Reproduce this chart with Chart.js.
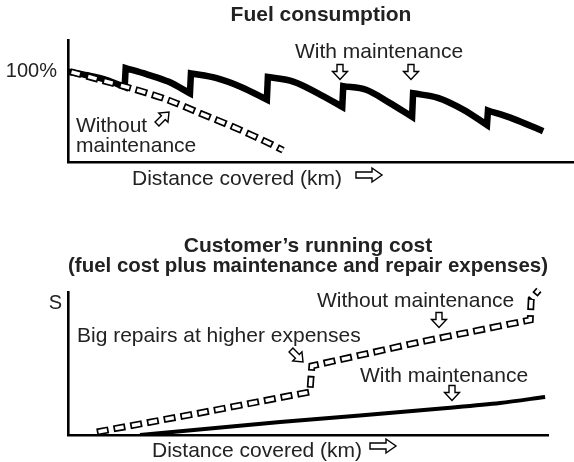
<!DOCTYPE html>
<html>
<head>
<meta charset="utf-8">
<script src="https://cdn.jsdelivr.net/npm/chart.js@4"></script>
<style>
  body { margin: 0; background: #fff; }
  .box { position: absolute; left: 0; width: 574px; }
  #fuel-box { top: 0; height: 205px; }
  #cost-box { top: 205px; height: 257px; }
</style>
</head>
<body>
<div class="box" id="fuel-box"><canvas id="fuel"></canvas></div>
<div class="box" id="cost-box"><canvas id="cost"></canvas></div>
<script>
// fuel consumption in % of the new-car level, distance in thousand km
const fuelWithKm = [0, 3.8, 7.5, 11.2, 11.4, 15.6, 19.8, 24.1, 24.3, 29.2, 34.2, 39.3, 39.5, 44.5, 49.4, 54.2, 54.4, 58.9, 63.4, 68.0, 68.2, 73.1, 78.1, 82.8, 83.0, 87.9, 93.9]
const fuelWith = [100, 96, 91, 83, 104, 97, 89, 76, 98, 93, 83, 69, 94, 89, 76, 61, 84, 80, 66, 50, 76, 71, 58, 41, 57, 48, 34]
const fuelWithoutKm = [0.4, 6.3, 12.8, 19.6, 26.1, 32.6, 39.3, 42.5]
const fuelWithout = [100, 91, 81, 69, 54, 39, 22, 13]
const fuelTicks = [100]
const fuelTickLabels = ['100%']

// running cost, arbitrary units
const costWithKm = [15, 20.6, 44.2, 60.8, 79, 90, 99.4]
const costWith = [0, 1.7, 9.1, 13.6, 18.9, 22.4, 26.6]
const costWithoutKm = [6.0, 27.5, 50.4, 50.8, 73.3, 96.3, 96.5, 98.1]
const costWithout = [2.1, 15.4, 30.1, 48.3, 65.0, 80.4, 95.1, 101.4]
const costTicks = [92]
const costTickLabels = ['S']

const FONT = "'Liberation Sans', Arial, Helvetica, sans-serif"
const INK = '#222'

const points = (xs, ys) => xs.map((x, i) => ({ x: x, y: ys[i] }))

// doubles the points on either side of a step, so the spline stays
// smooth along each tooth but the steps stay sharp
function sharpSteps(pts) {
  const out = []
  pts.forEach((p, i) => {
    const step = (pts[i - 1] && pts[i].x - pts[i - 1].x < 0.5) || (pts[i + 1] && pts[i + 1].x - pts[i].x < 0.5)
    out.push(p)
    if (step) out.push({ x: p.x, y: p.y })
  })
  return out
}

// hollow dashes: a thick black dash with a thinner white dash inside it
function hollowDash(label, data, tension) {
  return [{
    label: label,
    data: data,
    borderColor: '#fff',
    borderWidth: 3.6,
    borderDash: [8.6, 8.4],
    borderDashOffset: -1.7,
    tension: tension,
    pointRadius: 0,
    clip: false
  }, {
    label: label,
    data: data,
    borderColor: '#000',
    borderWidth: 7,
    borderDash: [12, 5],
    tension: tension,
    pointRadius: 0,
    clip: false
  }]
}

function arrow(ctx, x, y, angle, len, head, shaft, headLen) {
  const h = len / 2
  ctx.save()
  ctx.translate(x, y)
  ctx.rotate(angle)
  ctx.beginPath()
  ctx.moveTo(-h, -shaft / 2)
  ctx.lineTo(h - headLen, -shaft / 2)
  ctx.lineTo(h - headLen, -head / 2)
  ctx.lineTo(h, 0)
  ctx.lineTo(h - headLen, head / 2)
  ctx.lineTo(h - headLen, shaft / 2)
  ctx.lineTo(-h, shaft / 2)
  ctx.closePath()
  ctx.fillStyle = '#fff'
  ctx.fill()
  ctx.lineWidth = 1.4
  ctx.strokeStyle = '#000'
  ctx.lineJoin = 'miter'
  ctx.stroke()
  ctx.restore()
}

const down = [Math.PI / 2, 15, 15, 6, 8]
const right = [0, 26, 14, 6, 10]
const upRight = [-Math.PI / 4, 17, 13, 5.5, 8]
const downRight = [Math.PI / 4, 17, 13, 5.5, 8]

function notes(texts, arrows) {
  return {
    id: 'notes',
    afterDraw(chart) {
      const ctx = chart.ctx
      ctx.save()
      ctx.font = '21px ' + FONT
      ctx.fillStyle = INK
      ctx.textBaseline = 'alphabetic'
      texts.forEach(t => ctx.fillText(t[0], t[1], t[2]))
      arrows.forEach(a => arrow(ctx, a[0], a[1], ...a[2]))
      ctx.restore()
    }
  }
}

function axes(xHeight, ticks, tickLabels, yMax, tickPad) {
  return {
    x: {
      type: 'linear',
      min: 0,
      max: 100,
      grid: { display: false, drawTicks: false },
      border: { display: true, color: '#000', width: 2.6 },
      ticks: { display: false },
      afterFit: (s) => { s.height = xHeight }
    },
    y: {
      type: 'linear',
      min: 0,
      max: yMax,
      grid: { display: false, drawTicks: false },
      border: { display: true, color: '#000', width: 2.6 },
      afterBuildTicks: (s) => { s.ticks = ticks.map(v => ({ value: v })) },
      afterFit: (s) => { s.width = 68 },
      ticks: {
        padding: tickPad,
        color: INK,
        font: { family: FONT, size: 20 },
        callback: (v, i) => tickLabels[i]
      }
    }
  }
}

let fuel = new Chart(document.querySelector('#fuel'), {
  type: 'line',
  plugins: [notes(
    [['With maintenance', 295, 58], ['Without', 76, 132], ['maintenance', 76, 152], ['Distance covered (km)', 132, 185]],
    [[340, 72, down], [411, 72, down], [163, 118, upRight], [369, 175, right]]
  )],
  data: {
    datasets: [
      ...hollowDash('Without maintenance', points(fuelWithoutKm, fuelWithout), 0.3),
      {
        label: 'With maintenance',
        data: sharpSteps(points(fuelWithKm, fuelWith)),
        borderColor: '#000',
        borderWidth: 6.5,
        borderJoinStyle: 'miter',
        tension: 0.35,
        pointRadius: 0
      }
    ]
  },
  options: {
    responsive: true,
    maintainAspectRatio: false,
    animation: false,
    layout: { padding: 0 },
    scales: axes(43, fuelTicks, fuelTickLabels, 135, 11),
    plugins: {
      legend: { display: false },
      tooltip: { enabled: false },
      title: {
        display: true,
        fullSize: false,
        text: 'Fuel consumption',
        color: INK,
        font: { family: FONT, size: 21, weight: 'bold', lineHeight: 1.2 },
        padding: { top: 3, bottom: 11.8 }
      }
    }
  }
})

let cost = new Chart(document.querySelector('#cost'), {
  type: 'line',
  plugins: [notes(
    [['Big repairs at higher expenses', 77, 137], ['Without maintenance', 317, 102], ['With maintenance', 360, 177], ['Distance covered (km)', 152, 252]],
    [[439, 115, down], [452, 188, down], [297, 151, downRight], [383, 241, right]]
  )],
  data: {
    datasets: [
      ...hollowDash('Without maintenance', points(costWithoutKm, costWithout), 0),
      {
        label: 'With maintenance',
        data: points(costWithKm, costWith),
        borderColor: '#000',
        borderWidth: 4,
        tension: 0.3,
        pointRadius: 0
      }
    ]
  },
  options: {
    responsive: true,
    maintainAspectRatio: false,
    animation: false,
    layout: { padding: { left: 0, right: 26, top: 0, bottom: 0 } },
    scales: axes(27, costTicks, costTickLabels, 100, 6),
    plugins: {
      legend: { display: false },
      tooltip: { enabled: false },
      title: {
        display: true,
        fullSize: false,
        text: ['Customer\u2019s running cost', '(fuel cost plus maintenance and repair expenses)'],
        color: INK,
        font: { family: FONT, size: 21, weight: 'bold', lineHeight: 0.95 },
        padding: { top: 31.5, bottom: 15.5 }
      }
    }
  }
})
</script>
</body>
</html>
